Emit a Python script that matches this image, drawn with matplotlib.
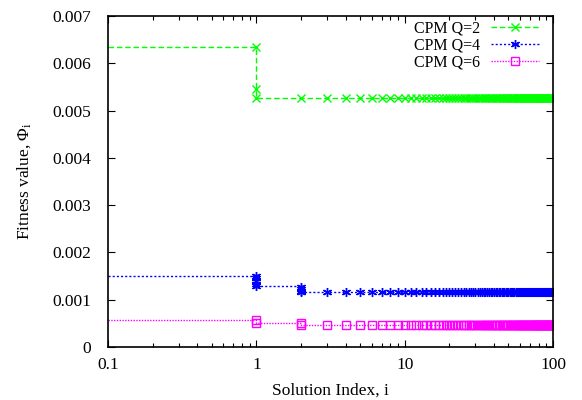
import numpy as np
import matplotlib
matplotlib.use("Agg")
import matplotlib.pyplot as plt

plt.rcParams['font.family'] = ['Liberation Serif', 'DejaVu Serif']
plt.rcParams['mathtext.fontset'] = 'custom'
plt.rcParams['mathtext.rm'] = 'Liberation Serif'
plt.rcParams['mathtext.it'] = 'Liberation Serif:italic'

# ---- data ----
start_x = 0.1
# Q=2
q2_start = 0.00635
q2_x = [1, 1, 1] + list(range(2, 101))
q2_y = [0.00635, 0.00545, 0.00527] + [0.00527] * 99
# Q=4
q4_start = 0.00151
q4_x = [1, 1, 1, 1, 1, 2, 2, 2, 2] + list(range(3, 101))
q4_y = [0.00151, 0.00146, 0.00140, 0.00134, 0.00128,
        0.00127, 0.00123, 0.00119, 0.00116] + [0.00116] * 98
# Q=6
q6_start = 0.00058
q6_x = [1, 1, 2, 2] + list(range(3, 101))
q6_y = [0.00058, 0.00050, 0.00050, 0.000475] + [0.000475] * 98

labels = ["CPM Q=2", "CPM Q=4", "CPM Q=6"]
colors = ["#00ff00", "#0000ff", "#ff00ff"]

fig = plt.figure(figsize=(5.82, 4.0), dpi=100)
ax = fig.add_axes([108/582, 1-347/400, (553-108)/582, (347-16)/400])

series = [(q2_start, q2_x, q2_y, 'x', (0, (4, 2)), 5.5),
          (q4_start, q4_x, q4_y, (6, 2, 0), (0, (1.5, 1.5)), 6.5),
          (q6_start, q6_x, q6_y, 's', (0, (1, 1)), 5.5)]

for (s, xs, ys, mk, ls, ms), lab, c in zip(series, labels, colors):
    lx = [start_x] + xs
    ly = [s] + ys
    ax.plot(lx, ly, drawstyle='steps-post', color=c, linestyle=ls, lw=1.0)
    ax.plot(xs, ys, linestyle='none', marker=mk, color=c, ms=ms,
            mfc='none', mec=c, mew=1.0)
    ax.plot([], [], color=c, linestyle=ls, lw=1.0, marker=mk, ms=ms,
            mfc='none', mec=c, mew=1.0, label=lab)

ax.set_xscale('log')
ax.set_xlim(0.1, 100)
ax.set_ylim(0, 0.007)
ax.set_xticks([0.1, 1, 10, 100])
ax.set_xticklabels(['0.1', '1', '10', '100'])
ax.set_yticks(np.arange(0, 0.0071, 0.001))
ax.set_yticklabels(['0', '0.001', '0.002', '0.003', '0.004', '0.005', '0.006', '0.007'])
ax.tick_params(which='both', direction='in', top=True, right=True, labelsize=12.5)
ax.tick_params(which='major', length=5, width=0.8)
ax.tick_params(which='minor', length=3, width=0.8)
ax.tick_params(axis='x', pad=7)
ax.tick_params(axis='y', pad=12)
for sp in ax.spines.values():
    sp.set_linewidth(1.2)

ax.set_xlabel('Solution Index, i', fontsize=12.5, labelpad=7)
ax.set_ylabel(r'Fitness value, $\Phi_{\mathrm{i}}$', fontsize=12.5, labelpad=14)

ax.legend(loc='upper right', frameon=False, markerfirst=False, fontsize=11.5,
          handlelength=3.0, handletextpad=0.7, labelspacing=0.05,
          borderaxespad=0.2, bbox_to_anchor=(0.99, 1.015))

fig.savefig('out.png', dpi=100)
